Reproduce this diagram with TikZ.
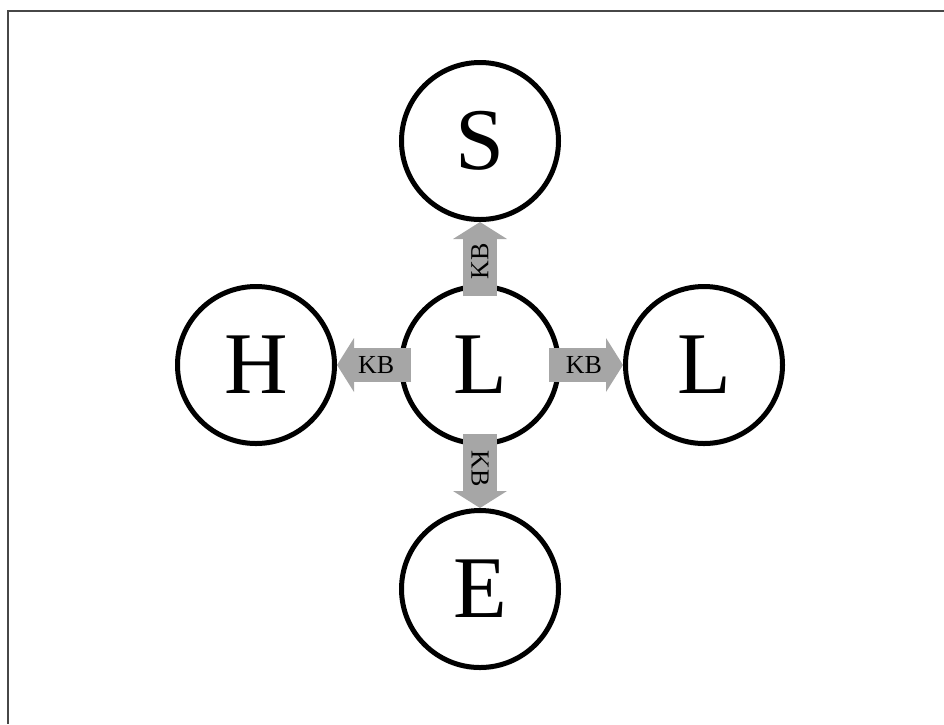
\documentclass[tikz,border=0pt]{standalone}
\usepackage{fontspec}
\setmainfont{Liberation Serif}
\usetikzlibrary{arrows.meta,positioning,shadows}

\begin{document}
\begin{tikzpicture}[
  x=1pt, y=1pt,
  node distance=62pt,
  state/.style={draw, circle, line width=5pt, fill=white, minimum size=157pt, inner sep=0pt,
    drop shadow={opacity=0.15, shadow xshift=0pt, shadow yshift=-3pt}, font=\fontsize{88}{88}\selectfont},
  kb/.style={black!35, line width=34pt, shorten <=-12pt, -{Triangle[length=17pt, width=54pt, line width=0pt]}},
  kblabel/.style={pos=0.37, sloped, text=black, font=\fontsize{26}{26}\selectfont}
]
  \useasboundingbox (0,0) rectangle (944,-724);
  \coordinate (tl) at (8,-11);
  \coordinate (tr) at (944,-11);
  \coordinate (bl) at (8,-724);
  \draw[line width=2.5pt, black!72] (tr) -- (tl) -- (bl);

  \node[state] (c) at (480,-365) {L};
  \node[state, above=of c] (s) {S};
  \node[state, left=of c] (h) {H};
  \node[state, right=of c] (l) {L};
  \node[state, below=of c] (e) {E};

  \draw[kb] (c) -- node[kblabel]{KB} (s);
  \draw[kb] (c) -- node[kblabel]{KB} (h);
  \draw[kb] (c) -- node[kblabel]{KB} (l);
  \draw[kb] (c) -- node[kblabel]{KB} (e);
\end{tikzpicture}
\end{document}
